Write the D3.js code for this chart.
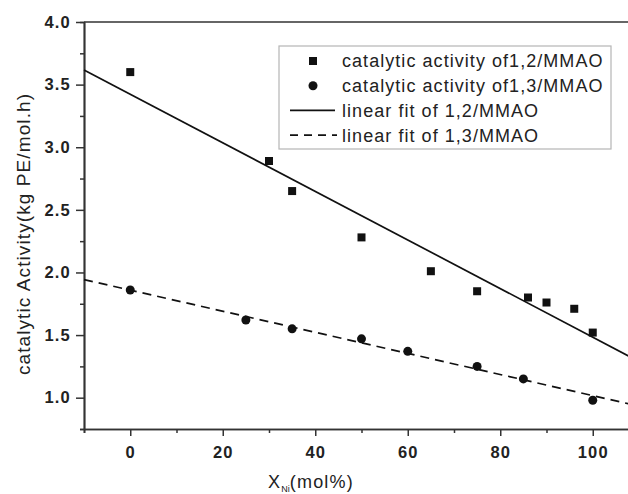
<!DOCTYPE html>
<html>
<head>
<meta charset="utf-8">
<script src="https://cdn.jsdelivr.net/npm/d3@7"></script>
<style>
  body { margin: 0; background: #fff; }
  svg { display: block; font-family: "Liberation Sans", Arial, sans-serif; }
</style>
</head>
<body>
<div id="chart"></div>
<script>
// DATA
const xNi12 = [0, 30, 35, 50, 65, 75, 86, 90, 96, 100];
const act12 = [3.60, 2.89, 2.65, 2.28, 2.01, 1.85, 1.80, 1.76, 1.71, 1.52];
const xNi13 = [0, 25, 35, 50, 60, 75, 85, 100];
const act13 = [1.86, 1.62, 1.55, 1.47, 1.37, 1.25, 1.15, 0.98];
const xTicks = [0, 20, 40, 60, 80, 100];
const xMinor = [-10, 10, 30, 50, 70, 90, 110];
const yTicks = [1.0, 1.5, 2.0, 2.5, 3.0, 3.5, 4.0];
const yMinor = [0.75, 1.25, 1.75, 2.25, 2.75, 3.25, 3.75];
const legendNames = [
  "catalytic activity of1,2/MMAO",
  "catalytic activity of1,3/MMAO",
  "linear fit of 1,2/MMAO",
  "linear fit of 1,3/MMAO"
];

// SIZE
const W = 628, H = 494;
const plot = { left: 84, top: 22, bottom: 429 };
const ink = "#222";

const svg = d3.select("#chart").append("svg")
    .attr("width", W)
    .attr("height", H);

svg.append("rect").attr("width", W).attr("height", H).attr("fill", "#fff");

const x = d3.scaleLinear().domain([-10, 110]).range([plot.left, plot.left + 120 * 4.625]);
const y = d3.scaleLinear().domain([0.75, 4.0]).range([plot.bottom, plot.top]);

// least squares fit for the two series
function fit(xs, ys) {
  const mx = d3.mean(xs), my = d3.mean(ys);
  let sxy = 0, sxx = 0;
  xs.forEach((v, i) => { sxy += (v - mx) * (ys[i] - my); sxx += (v - mx) * (v - mx); });
  const b = sxy / sxx;
  return v => my + b * (v - mx);
}
const fit12 = fit(xNi12, act12);
const fit13 = fit(xNi13, act13);

// AXES
function styleAxis(g) {
  g.select(".domain").attr("stroke", "#333").attr("stroke-width", 1.7);
  g.selectAll(".tick line").attr("stroke", "#333").attr("stroke-width", 1.5);
  g.selectAll(".tick text")
      .attr("fill", ink)
      .style("font-size", "16.5px")
      .style("font-weight", "bold")
      .style("letter-spacing", "1.2px");
}

svg.append("g")
    .attr("transform", `translate(0,${plot.bottom})`)
    .call(d3.axisBottom(x).tickValues(xMinor).tickSize(4).tickFormat(""))
    .call(styleAxis);

svg.append("g")
    .attr("transform", `translate(0,${plot.bottom})`)
    .call(d3.axisBottom(x).tickValues(xTicks).tickSize(7).tickPadding(10).tickSizeOuter(0))
    .call(styleAxis);

svg.append("g")
    .attr("transform", `translate(${plot.left},0)`)
    .call(d3.axisLeft(y).tickValues(yMinor).tickSize(4).tickFormat(""))
    .call(styleAxis);

svg.append("g")
    .attr("transform", `translate(${plot.left},0)`)
    .call(d3.axisLeft(y).tickValues(yTicks).tickSize(8).tickPadding(5)
        .tickSizeOuter(0).tickFormat(d3.format(".1f")))
    .call(styleAxis);

// top frame
svg.append("line")
    .attr("x1", plot.left).attr("x2", x(110))
    .attr("y1", y(4.0)).attr("y2", y(4.0))
    .attr("stroke", "#333").attr("stroke-width", 1.7);

// FIT LINES
const fitX = [-10, 110];
svg.append("path")
    .datum(fitX)
    .attr("fill", "none")
    .attr("stroke", "#111")
    .attr("stroke-width", 1.7)
    .attr("d", d3.line().x(d => x(d)).y(d => y(fit12(d))));

svg.append("path")
    .datum(fitX)
    .attr("fill", "none")
    .attr("stroke", "#111")
    .attr("stroke-width", 1.7)
    .attr("stroke-dasharray", "9,6")
    .attr("d", d3.line().x(d => x(d)).y(d => y(fit13(d))));

// POINTS
svg.selectAll(".sq")
    .data(xNi12.map((v, i) => [v, act12[i]]))
    .enter()
    .append("rect")
    .attr("class", "sq")
    .attr("x", d => x(d[0]) - 4)
    .attr("y", d => y(d[1]) - 4)
    .attr("width", 8)
    .attr("height", 8)
    .attr("fill", "#111");

svg.selectAll(".dot")
    .data(xNi13.map((v, i) => [v, act13[i]]))
    .enter()
    .append("circle")
    .attr("class", "dot")
    .attr("cx", d => x(d[0]))
    .attr("cy", d => y(d[1]))
    .attr("r", 4.5)
    .attr("fill", "#111");

// LEGEND
const legend = svg.append("g").attr("transform", "translate(279,46)");

legend.append("rect")
    .attr("width", 332)
    .attr("height", 103)
    .attr("fill", "#fff")
    .attr("stroke", "#b5b5b5")
    .attr("stroke-width", 1.2);

const rows = legend.selectAll(".row")
    .data(legendNames)
    .enter()
    .append("g")
    .attr("class", "row")
    .attr("transform", (d, i) => `translate(0,${15 + i * 24.7})`);

rows.append("text")
    .attr("x", 63)
    .attr("dy", "0.36em")
    .attr("fill", ink)
    .style("font-size", "18px")
    .style("letter-spacing", "1.05px")
    .text(d => d);

rows.filter((d, i) => i === 0).append("rect")
    .attr("x", 30).attr("y", -4).attr("width", 8).attr("height", 8).attr("fill", "#111");
rows.filter((d, i) => i === 1).append("circle")
    .attr("cx", 34).attr("r", 4.5).attr("fill", "#111");
rows.filter((d, i) => i === 2).append("line")
    .attr("x1", 11).attr("x2", 56).attr("stroke", "#111").attr("stroke-width", 1.7);
rows.filter((d, i) => i === 3).append("line")
    .attr("x1", 11).attr("x2", 58).attr("stroke", "#111").attr("stroke-width", 1.7)
    .attr("stroke-dasharray", "8,6");

// AXIS TITLES
svg.append("text")
    .attr("transform", "translate(30,234) rotate(-90)")
    .attr("text-anchor", "middle")
    .attr("fill", ink)
    .style("font-size", "19px")
    .style("letter-spacing", "1.1px")
    .text("catalytic Activity(kg PE/mol.h)");

const xl = svg.append("text")
    .attr("x", 311)
    .attr("y", 488)
    .attr("text-anchor", "middle")
    .attr("fill", ink)
    .style("font-size", "18px")
    .style("letter-spacing", "1.2px");
xl.append("tspan").text("X");
xl.append("tspan").attr("dy", 4).style("font-size", "9px").style("letter-spacing", "0px").text("Ni");
xl.append("tspan").attr("dy", -4).text("(mol%)");
</script>
</body>
</html>
